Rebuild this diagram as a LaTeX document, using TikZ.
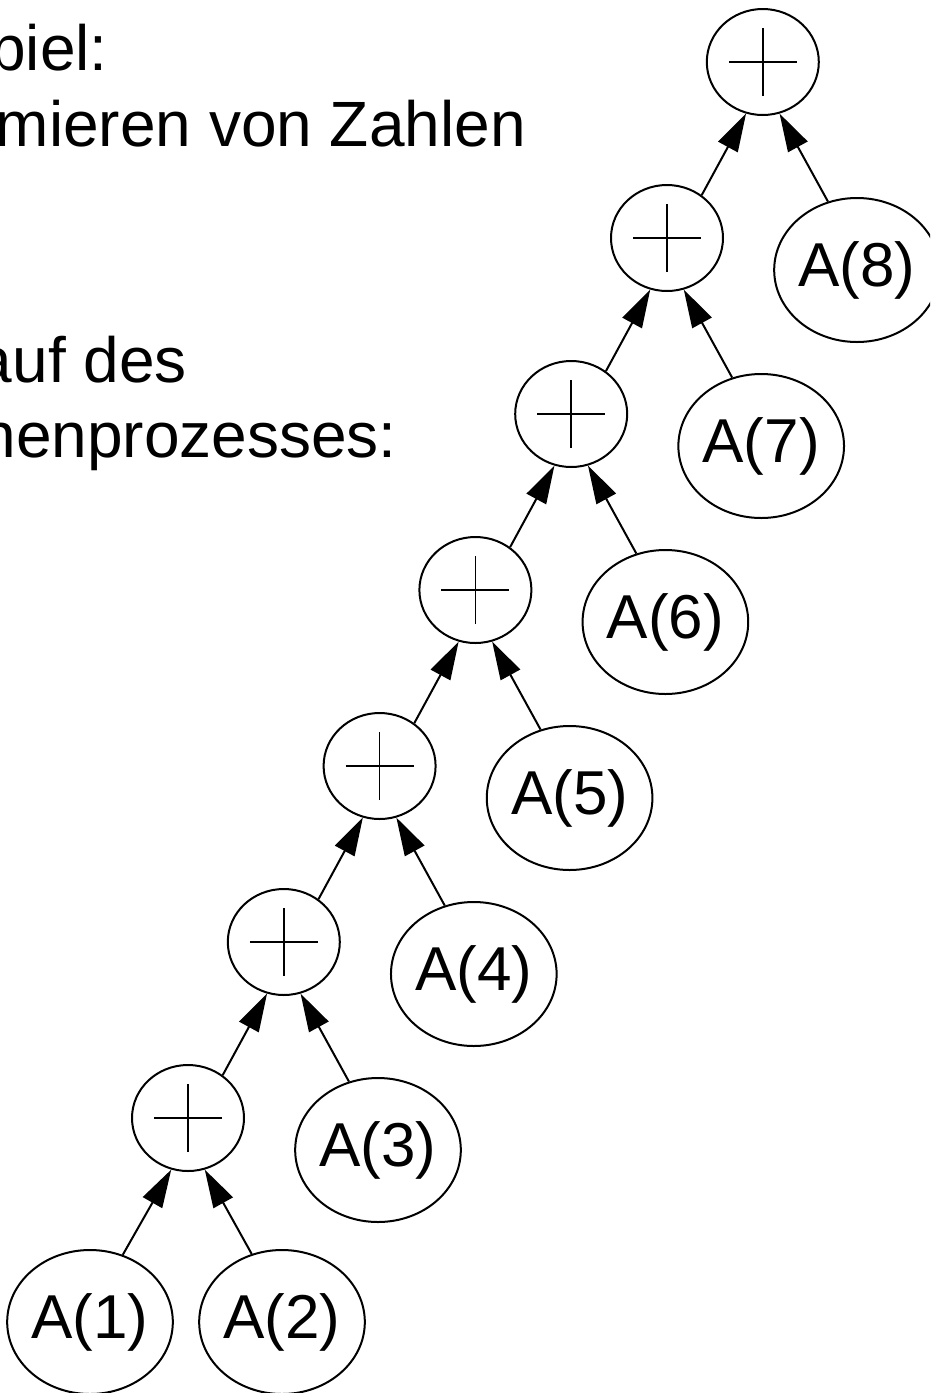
\documentclass[tikz,border=0pt]{standalone}
\usepackage{fontspec}
\setmainfont{Liberation Sans}
\usetikzlibrary{positioning,shapes.geometric,arrows.meta}

\tikzset{
    textline/.style={anchor=base east, inner sep=0pt, font=\fontsize{64}{77}\selectfont},
    plusnode/.style={draw, line width=2pt, ellipse, minimum width=112pt, minimum height=106pt, inner sep=0pt,
        path picture={\path[draw, line width=1.6pt]
            (path picture bounding box.center) ++(-34pt,0) -- ++(68pt,0)
            (path picture bounding box.center) ++(0,-34pt) -- ++(0,68pt);}},
    leafnode/.style={draw, line width=2pt, ellipse, minimum width=158pt, minimum height=144pt, inner sep=0pt,
        font=\fontsize{62}{62}\selectfont},
    sumarrow/.style={draw, line width=2pt, -{Triangle[length=38pt, width=22pt]}},
}

\begin{document}
\begin{tikzpicture}[x=1pt, y=-1pt]

    \useasboundingbox (0,0) rectangle (930,1393);
    \clip (0,0) rectangle (930,1393);

    % heading text
    \node[textline] (l1) at (108,70) {Beispiel:};
    \node[textline] (l2) at (526,146) {Summieren von Zahlen};
    \node[textline] (l3) at (187,382) {Ablauf des};
    \node[textline] (l4) at (397,457) {Rechenprozesses:};

    % chain of additions
    \foreach \i in {1,...,7} {
        \node[plusnode] (p\i) at ({188+95.8*(\i-1)}, {1118-176*(\i-1)}) {};
    }
    \foreach \i in {1,...,6} {
        \pgfmathtruncatemacro{\j}{\i+1}
        \path[sumarrow] (p\i.51) -- (p\j.252);
    }

    % the summands
    \node[leafnode] (a1) at (90,1322) {A(1)};
    \node[leafnode] (a2) at (282,1322) {A(2)};
    \path[sumarrow] (a1.64) -- (p1.252);
    \path[sumarrow] (a2.114) -- (p1.288);
    \foreach \k in {3,...,8} {
        \pgfmathtruncatemacro{\j}{\k-2}
        \pgfmathtruncatemacro{\m}{\k-1}
        \node[leafnode] (a\k) at ([shift={(190,32)}]p\j) {A(\k)};
        \path[sumarrow] (a\k.113) -- (p\m.288);
    }

\end{tikzpicture}
\end{document}
